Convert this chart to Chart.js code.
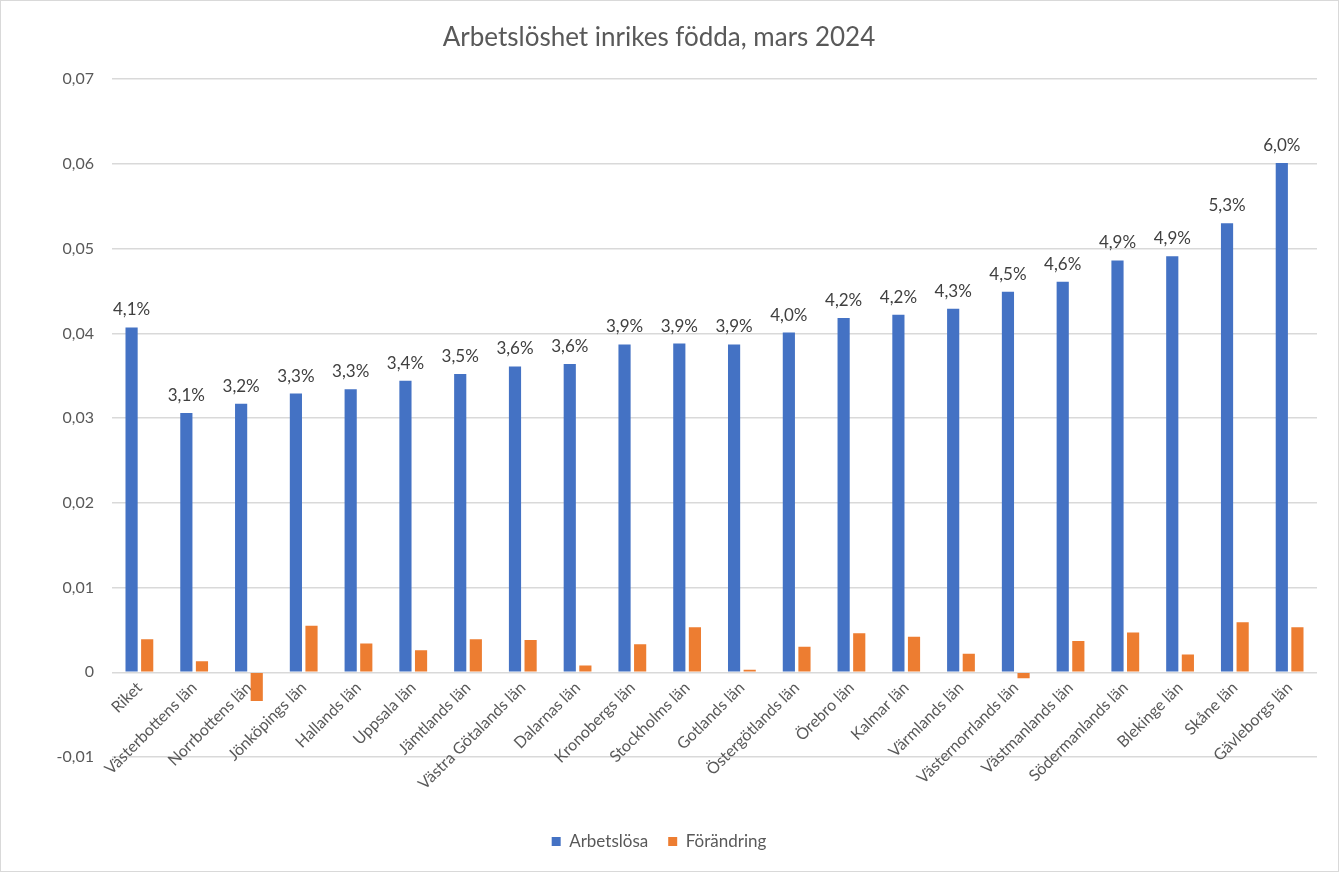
<!DOCTYPE html>
<html lang="sv">
<head>
<meta charset="utf-8">
<title>Arbetslöshet inrikes födda, mars 2024</title>
<script src="https://cdn.jsdelivr.net/npm/chart.js@4.4.1/dist/chart.umd.min.js"></script>
<style>
  html, body { margin: 0; padding: 0; background: #fff; }
  #wrap {
    position: relative;
    width: 1339px;
    height: 872px;
    box-sizing: border-box;
    border: 1px solid #d9d9d9;
  }
</style>
</head>
<body>
<div id="wrap"><canvas id="chart"></canvas></div>
<script>
const lan = [
  'Riket', 'Västerbottens län', 'Norrbottens län', 'Jönköpings län', 'Hallands län',
  'Uppsala län', 'Jämtlands län', 'Västra Götalands län', 'Dalarnas län', 'Kronobergs län',
  'Stockholms län', 'Gotlands län', 'Östergötlands län', 'Örebro län', 'Kalmar län',
  'Värmlands län', 'Västernorrlands län', 'Västmanlands län', 'Södermanlands län',
  'Blekinge län', 'Skåne län', 'Gävleborgs län'
];

// andel arbetslösa (blå staplar)
const arbetslosa = [
  0.0407, 0.0306, 0.0317, 0.0329, 0.0334,
  0.0344, 0.0352, 0.0361, 0.0364, 0.0387,
  0.0388, 0.0387, 0.0401, 0.0418, 0.0422,
  0.0429, 0.0449, 0.0461, 0.0486,
  0.0491, 0.0530, 0.0601
];

// förändring (orange staplar)
const forandring = [
  0.0039, 0.0013, -0.0034, 0.0055, 0.0034,
  0.0026, 0.0039, 0.0038, 0.0008, 0.0033,
  0.0053, 0.0003, 0.0030, 0.0046, 0.0042,
  0.0022, -0.0007, 0.0037, 0.0047,
  0.0021, 0.0059, 0.0053
];

const yMin = -0.01;
const yMax = 0.07;
const yStep = 0.01;

const FONT = 'Lato, "Open Sans", sans-serif';
const GREY = '#595959';

function fmtTick(v) {
  const r = Math.round(v * 100) / 100;
  if (r === 0) return '0';
  return r.toFixed(2).replace('.', ',');
}

function fmtPct(v) {
  return (Math.round(v * 1000) / 10).toFixed(1).replace('.', ',') + '%';
}

// procentetiketter ovanför de blå staplarna
const barLabels = {
  id: 'barLabels',
  afterDatasetsDraw(chart) {
    const ctx = chart.ctx;
    const meta = chart.getDatasetMeta(0);
    ctx.save();
    ctx.font = '17px ' + FONT;
    ctx.fillStyle = '#404040';
    ctx.textAlign = 'center';
    ctx.textBaseline = 'bottom';
    meta.data.forEach((bar, i) => {
      ctx.fillText(fmtPct(arbetslosa[i]), bar.x, bar.y - 9);
    });
    ctx.restore();
  }
};

new Chart(document.getElementById('chart'), {
  type: 'bar',
  data: {
    labels: lan,
    datasets: [
      {
        label: 'Arbetslösa',
        data: arbetslosa,
        backgroundColor: '#4472C4',
        categoryPercentage: 0.57,
        barPercentage: 0.78
      },
      {
        label: 'Förändring',
        data: forandring,
        backgroundColor: '#ED7D31',
        categoryPercentage: 0.57,
        barPercentage: 0.78
      }
    ]
  },
  options: {
    responsive: true,
    maintainAspectRatio: false,
    animation: false,
    layout: { padding: { left: 0, right: 21, top: 0, bottom: 11 } },
    plugins: {
      title: {
        display: true,
        text: 'Arbetslöshet inrikes födda, mars 2024',
        color: GREY,
        font: { family: FONT, size: 26, weight: 'normal' },
        padding: { top: 21, bottom: 26 }
      },
      legend: {
        position: 'bottom',
        labels: {
          color: GREY,
          font: { family: FONT, size: 17 },
          boxWidth: 9,
          boxHeight: 9,
          padding: 20
        }
      },
      tooltip: { enabled: false }
    },
    scales: {
      x: {
        position: { y: 0 },
        grid: { display: false, drawTicks: false },
        border: { display: false },
        ticks: {
          color: GREY,
          font: { family: FONT, size: 16 },
          minRotation: 45,
          maxRotation: 45,
          autoSkip: false,
          padding: 6
        },
        afterFit: s => { s.height = 0; }
      },
      // tom axel som håller plats mellan diagramytan och förklaringen
      gap: {
        type: 'category',
        position: 'bottom',
        grid: { display: false, drawTicks: false },
        border: { display: false },
        ticks: { display: false },
        afterFit: s => { s.height = 56; }
      },
      y: {
        min: yMin,
        max: yMax,
        grid: { color: '#d9d9d9', lineWidth: 1.5, drawTicks: false },
        border: { display: false },
        ticks: {
          stepSize: yStep,
          color: GREY,
          font: { family: FONT, size: 16 },
          padding: 18,
          callback: v => fmtTick(v)
        },
        afterFit: s => { s.width = 111; }
      }
    }
  },
  plugins: [barLabels]
});
</script>
</body>
</html>
